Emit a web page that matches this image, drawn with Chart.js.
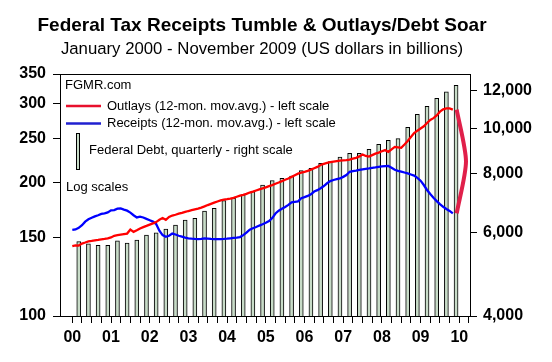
<!DOCTYPE html>
<html>
<head>
<meta charset="utf-8">
<title>Federal Tax Receipts Tumble & Outlays/Debt Soar</title>
<script src="https://cdn.jsdelivr.net/npm/chart.js@4.4.0/dist/chart.umd.min.js"></script>
<style>
  body { margin: 0; background: #fff; }
  canvas { display: block; }
</style>
</head>
<body>
<canvas id="myChart" width="552" height="362"></canvas>
<script>
// monthly, Jan 2000 .. Nov 2009, 12-month moving average, $bn
const outlays = [
  143.6, 144.2, 144.0, 145.5, 146.3, 147.2, 147.5, 148.0, 148.3, 148.7, 149.0, 149.4,
  150.2, 151.5, 152.0, 152.4, 152.8, 153.2, 156.4, 154.6, 155.8, 157.3, 158.4, 159.4,
  160.5, 161.5, 162.6, 164.5, 166.0, 164.5, 167.0, 168.2, 168.9, 169.8, 170.5, 171.4,
  172.2, 172.9, 173.6, 174.3, 175.3, 176.4, 177.6, 178.7, 179.8, 180.9, 182.0, 182.6,
  183.1, 183.7, 184.4, 185.4, 186.4, 187.2, 188.2, 189.5, 190.4, 191.5, 192.6, 193.6,
  194.7, 195.8, 196.9, 198.3, 199.6, 201.0, 202.5, 203.8, 205.5, 207.3, 209.0, 210.0,
  210.9, 211.9, 213.3, 214.8, 216.4, 218.5, 219.8, 221.0, 221.8, 222.4, 223.0, 223.4,
  223.8, 224.1, 224.8, 225.9, 226.8, 228.5, 230.8, 229.0, 228.3, 230.0, 231.8, 233.0,
  234.6, 236.0, 233.8, 237.0, 240.0, 239.5, 238.9, 243.0, 247.5, 252.5, 257.8, 261.0,
  264.0, 267.0, 271.5, 276.0, 278.5, 282.5, 288.0, 291.5, 292.8, 292.9, 291.0
];
const receipts = [
  156.1, 156.5, 157.8, 160.0, 163.0, 165.0, 166.3, 167.5, 168.5, 169.6, 170.2, 171.0,
  172.8, 173.0, 174.3, 174.5, 173.4, 172.5, 170.8, 168.5, 166.6, 167.3, 166.5, 165.3,
  164.2, 163.0, 161.0, 155.5, 152.0, 150.7, 151.5, 153.2, 152.5, 151.5, 150.8, 150.0,
  149.5, 149.2, 149.0, 148.9, 149.0, 149.5, 149.3, 149.0, 148.9, 148.9, 148.9, 149.0,
  149.2, 149.5, 149.8, 150.1, 150.5, 152.0, 154.0, 156.3, 157.5, 158.5, 159.7, 160.8,
  162.0, 163.4, 166.0, 170.0, 172.5, 174.2, 175.8, 177.8, 180.2, 180.6, 181.0, 184.0,
  185.0, 186.2, 187.8, 190.5, 191.8, 193.8, 196.0, 198.8, 201.0, 202.2, 203.0, 203.8,
  205.5, 207.5, 211.0, 211.8, 212.3, 213.0, 213.7, 214.3, 214.8, 215.4, 215.8, 216.5,
  216.9, 217.3, 217.5, 215.5, 213.2, 212.0, 211.2, 210.2, 209.2, 208.0, 206.8, 204.5,
  201.5, 197.0, 192.0, 188.0, 184.5, 181.3, 178.5, 176.0, 174.0, 172.3, 170.1
];
// quarterly, 2000Q1 .. 2009Q4, $bn
const debt = [
  5748, 5685, 5648, 5648, 5769, 5711, 5796, 5937, 6005, 6115,
  6235, 6389, 6443, 6676, 6764, 7020, 7103, 7220, 7335, 7580,
  7741, 7831, 7920, 8128, 8224, 8427, 8493, 8689, 8846, 8846,
  9020, 9243, 9425, 9500, 10039, 10701, 11128, 11572, 11933, 12328
];
const yearLabels = ['00', '01', '02', '03', '04', '05', '06', '07', '08', '09', '10'];
const leftTicks = [100, 150, 200, 250, 300, 350];
const rightTicks = [4000, 6000, 8000, 10000, 12000];

const FONT = "'Liberation Sans', Arial, sans-serif";
const GREEN = '#c8dcc8';

// x axis is in years since Jan 2000
const outlayPts = outlays.map((v, i) => ({x: i / 12, y: v}));
const receiptPts = receipts.map((v, i) => ({x: i / 12, y: v}));
const debtPts = debt.map((v, q) => ({x: (q * 3 + 2) / 12, y: v}));

// bracket joining the last outlays and receipts readings
const lastX = (outlays.length - 1) / 12 + 0.1;
const oEnd = outlays[outlays.length - 1], rEnd = receipts[receipts.length - 1];
const gapPts = [
  {x: lastX, y: oEnd},
  {x: lastX + 0.24, y: Math.sqrt(oEnd * rEnd)},
  {x: lastX, y: rEnd}
];

const quarterTicks = [];
for (let q = 0; q <= 41; q++) quarterTicks.push(q / 4);

const frame = {
  id: 'frame',
  afterDraw(chart) {
    const c = chart.ctx, a = chart.chartArea;
    c.save();
    c.strokeStyle = '#000';
    c.lineWidth = 1;
    c.strokeRect(Math.round(a.left) + 0.5, Math.round(a.top) + 0.5,
      Math.round(a.right - a.left), Math.round(a.bottom - a.top));

    // legend block in the upper left corner
    const L = a.left, T = a.top;
    c.font = '13px ' + FONT;
    c.fillStyle = '#000';
    c.textBaseline = 'middle';
    c.fillText('FGMR.com', L + 5, T + 11);

    c.lineWidth = 2.5;
    c.strokeStyle = '#e8102c';
    c.beginPath(); c.moveTo(L + 6, T + 32); c.lineTo(L + 41, T + 32); c.stroke();
    c.fillText('Outlays (12-mon. mov.avg.) - left scale', L + 47, T + 32);

    c.strokeStyle = '#2020d0';
    c.beginPath(); c.moveTo(L + 6, T + 49.5); c.lineTo(L + 41, T + 49.5); c.stroke();
    c.fillText('Receipts (12-mon. mov.avg.) - left scale', L + 47, T + 49.5);

    c.lineWidth = 1;
    c.fillStyle = GREEN;
    c.fillRect(L + 16.5, T + 59.5, 3, 36);
    c.strokeStyle = '#000';
    c.strokeRect(L + 16.5, T + 59.5, 3, 36);
    c.fillStyle = '#000';
    c.fillText('Federal Debt, quarterly - right scale', L + 29, T + 76);

    c.fillText('Log scales', L + 6, T + 113);
    c.restore();
  }
};

const ctx = document.getElementById('myChart').getContext('2d');
const myChart = new Chart(ctx, {
  type: 'bar',
  data: {
    datasets: [
      {
        type: 'line', label: 'gap', data: gapPts, yAxisID: 'y',
        borderColor: '#e0204a', borderWidth: 4, pointRadius: 0, tension: 0.25, order: 0
      },
      {
        type: 'line', label: 'Outlays', data: outlayPts, yAxisID: 'y',
        borderColor: '#ff0000', borderWidth: 2.3, pointRadius: 0, tension: 0, order: 1
      },
      {
        type: 'line', label: 'Receipts', data: receiptPts, yAxisID: 'y',
        borderColor: '#0000ff', borderWidth: 2.3, pointRadius: 0, tension: 0, order: 1
      },
      {
        type: 'bar', label: 'Federal Debt', data: debtPts, yAxisID: 'y2',
        backgroundColor: GREEN, borderColor: '#000', borderWidth: 1,
        barThickness: 4, order: 3
      }
    ]
  },
  options: {
    responsive: false,
    animation: false,
    // negative left padding moves the centred titles left, as in the original
    layout: {padding: {left: -28, top: 0, right: 0, bottom: 0}},
    plugins: {
      legend: {display: false},
      tooltip: {enabled: false},
      title: {
        display: true,
        text: 'Federal Tax Receipts Tumble & Outlays/Debt Soar',
        color: '#000',
        font: {family: FONT, size: 19, weight: 'bold', lineHeight: 1.2},
        padding: {top: 14.5, bottom: 1}
      },
      subtitle: {
        display: true,
        text: 'January 2000 - November 2009 (US dollars in billions)',
        color: '#000',
        font: {family: FONT, size: 16.75, lineHeight: 1.2},
        padding: {top: 1, bottom: 14.6}
      }
    },
    scales: {
      x: {
        type: 'linear',
        min: -0.318,
        max: 10.277,
        offset: false,
        afterBuildTicks: s => { s.ticks = quarterTicks.map(v => ({value: v})); },
        afterFit: s => { s.height = 46; },
        ticks: {
          autoSkip: false, maxRotation: 0, minRotation: 0, padding: 5,
          color: '#000',
          font: {family: FONT, size: 16, weight: 'bold'},
          callback: v => Number.isInteger(v) ? yearLabels[v] : ''
        },
        grid: {offset: false, drawOnChartArea: false, tickLength: 7, color: '#000', tickWidth: 1},
        border: {display: false}
      },
      y: {
        type: 'logarithmic',
        position: 'left',
        min: 100,
        max: 350,
        afterBuildTicks: s => { s.ticks = leftTicks.map(v => ({value: v})); },
        afterFit: s => { s.width = 88; },
        ticks: {
          padding: 7, color: '#000',
          font: {family: FONT, size: 16, weight: 'bold'},
          callback: v => String(v)
        },
        grid: {drawOnChartArea: false, tickLength: 7, color: '#000'},
        border: {display: false}
      },
      y2: {
        type: 'logarithmic',
        position: 'right',
        min: 4000,
        max: 13025,
        afterBuildTicks: s => { s.ticks = rightTicks.map(v => ({value: v})); },
        afterFit: s => { s.width = 82; },
        ticks: {
          padding: 6, color: '#000',
          font: {family: FONT, size: 16, weight: 'bold'},
          callback: v => Number(v).toLocaleString('en-US')
        },
        grid: {drawOnChartArea: false, tickLength: 7, color: '#000'},
        border: {display: false}
      }
    }
  },
  plugins: [frame]
});
</script>
</body>
</html>
